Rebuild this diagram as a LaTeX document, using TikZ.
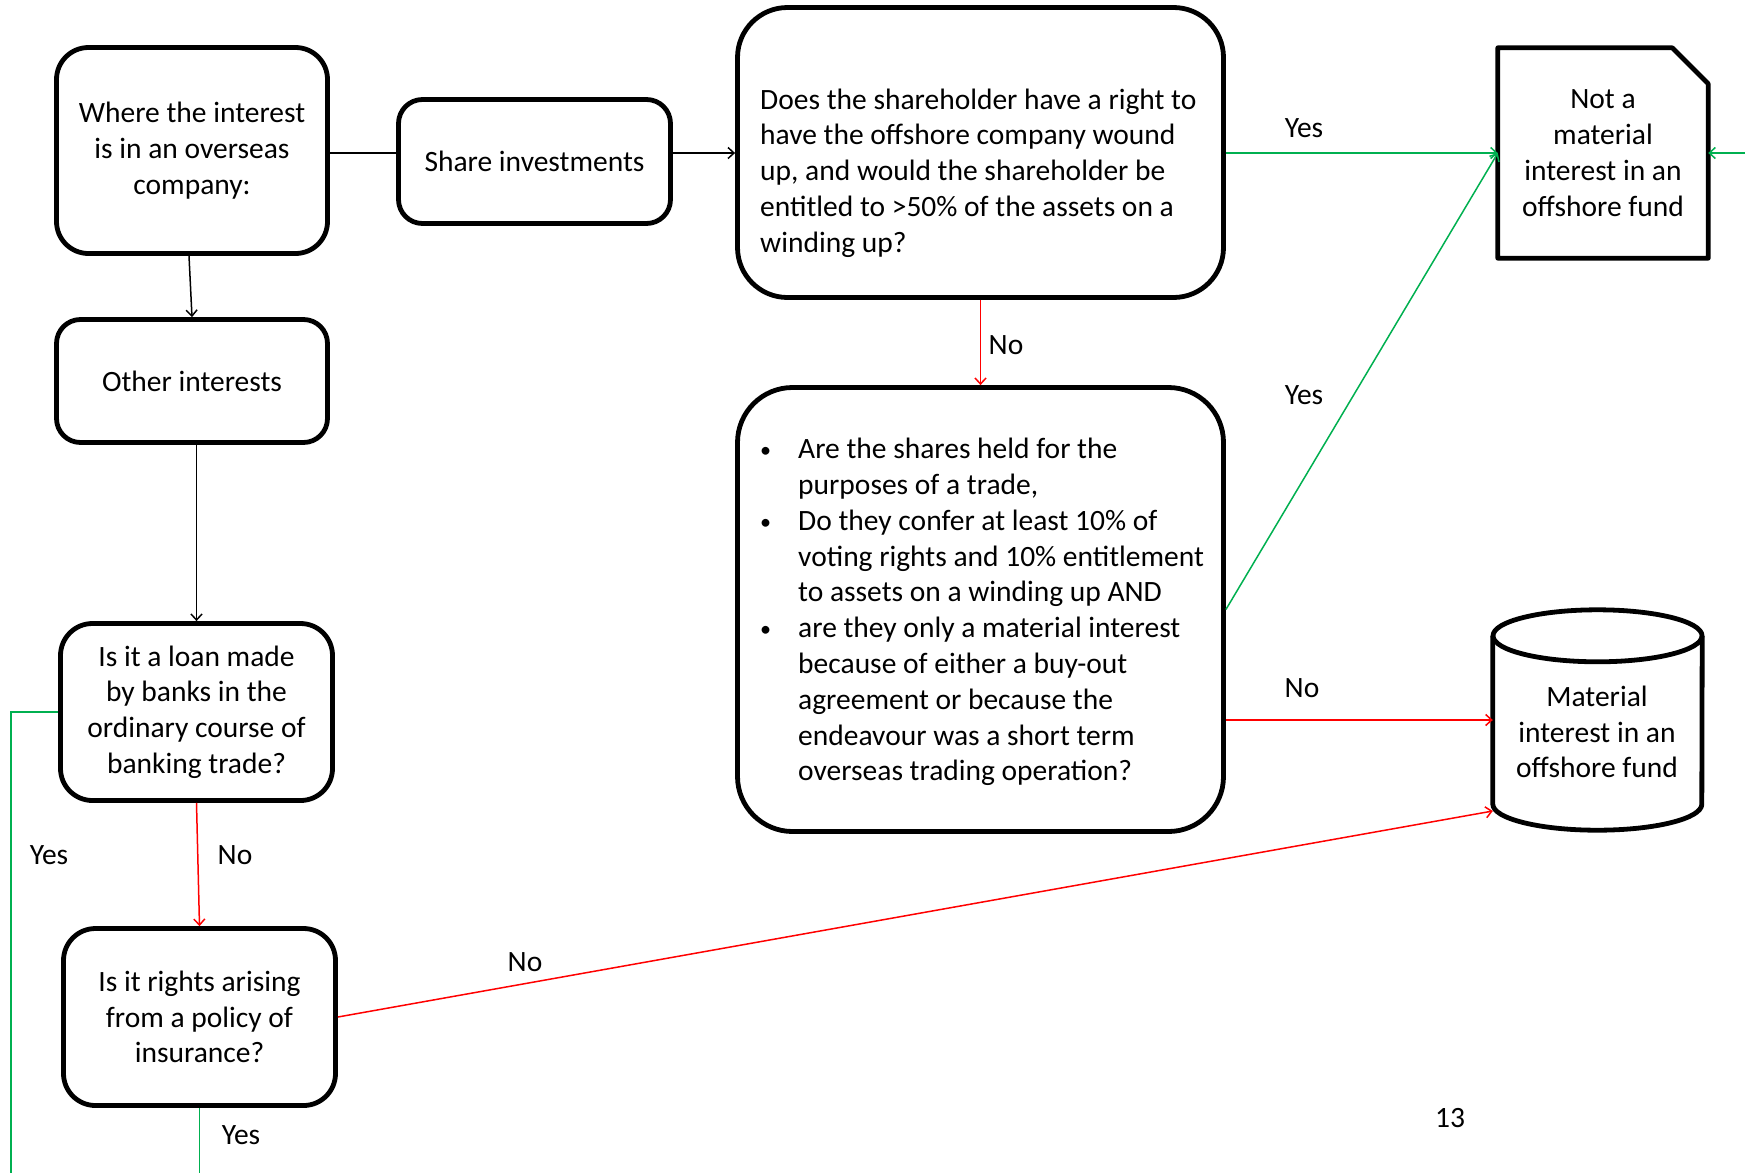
\documentclass[tikz,border=0pt]{standalone}
\usepackage{fontspec}
\setmainfont{Carlito}
\usetikzlibrary{arrows.meta,calc}
\definecolor{yesgreen}{RGB}{0,176,80}
\definecolor{nored}{RGB}{255,0,0}
\newcommand{\bul}{\makebox[40pt][l]{\hspace*{2pt}\raisebox{1pt}{\scalebox{0.75}{\textbullet}}}}
\newcommand{\hang}{\hspace*{40pt}}
\begin{document}
\begin{tikzpicture}[x=1pt,y=-1pt,
  every node/.style={font=\fontsize{29.5pt}{35.8pt}\selectfont, inner sep=0pt},
  box/.style={draw, line width=4.8pt, rounded corners=#1, align=center},
  box/.default=32pt,
  flow/.style={line width=1.5pt, -{Straight Barb[length=6pt,width=11pt]}},
  plain/.style={line width=1.5pt},
  yes/.style={draw=yesgreen},
  no/.style={draw=nored},
  shapeline/.style={line width=4.8pt, line join=round}
]
\useasboundingbox (0,0) rectangle (1745,1173);
\fill[white] (0,0) rectangle (1745,1173);

% left column
\node[box, minimum width=271pt, minimum height=206pt] (a) at (192,150.5)
  {Where the interest\\is in an overseas\\company:};
\node[box=24pt, minimum width=272pt, minimum height=124pt] (sh) at (534.5,161.5)
  {Share investments};
\node[box=24pt, minimum width=271pt, minimum height=123pt] (oi) at (192,381)
  {Other interests};
\node[box, minimum width=272pt, minimum height=177pt] (loan) at (196.5,712)
  {Is it a loan made\\by banks in the\\ordinary course of\\banking trade?};
\node[box, minimum width=272pt, minimum height=177pt] (ins) at (199.5,1017)
  {Is it rights arising\\from a policy of\\insurance?};

% middle column
\node[box=50pt, minimum width=486pt, minimum height=290pt] (q1) at (980.5,152.5) {};
\node[anchor=west, align=left] (q1t) at (760,173)
  {Does the shareholder have a right to\\have the offshore company wound\\up, and would the shareholder be\\entitled to >50\% of the assets on a\\winding up?};
\node[box=55pt, minimum width=486pt, minimum height=444pt] (q2) at (980.5,609.5) {};
\node[anchor=west, align=left] (q2t) at (758,612)
  {\bul Are the shares held for the\\\hang purposes of a trade,\\\bul Do they confer at least 10\% of\\\hang voting rights and 10\% entitlement\\\hang to assets on a winding up AND\\\bul are they only a material interest\\\hang because of either a buy-out\\\hang agreement or because the\\\hang endeavour was a short term\\\hang overseas trading operation?};

% outcomes
\node[minimum width=210pt, minimum height=210pt, align=center] (nm) at (1603,153)
  {Not a\\material\\interest in an\\offshore fund};
\draw[shapeline] (nm.south west) -- (nm.north west) -- ([xshift=-36pt]nm.north east)
  -- ([yshift=-36pt]nm.north east) -- (nm.south east) -- cycle;

\node[minimum width=209pt, minimum height=220pt] (mf) at (1597.5,720) {};
\draw[shapeline] ($(mf.north)+(0,26)$) ellipse [x radius=104.5pt, y radius=26pt];
\draw[shapeline] ($(mf.north west)+(0,26)$) -- ($(mf.south west)+(0,-26)$)
  arc[start angle=180, end angle=360, x radius=104.5pt, y radius=26pt]
  -- ($(mf.north east)+(0,26)$);
\node[align=center] (mft) at (1597,732) {Material\\interest in an\\offshore fund};

% free ends at the page border
\coordinate (rin) at (1745,153);
\coordinate (lyes) at (11,1173);
\coordinate (iyes) at (199.5,1173);
\coordinate (row) at (0,153);

% black connectors
\draw[plain] (a.east |- row) -- (sh.west |- row);
\draw[flow] (sh.east |- row) -- (q1.west |- row);
\draw[flow] ([xshift=-3pt]a.south) -- (oi.north);
\draw[flow] (oi.south -| loan.north) -- (loan.north);

% green connectors
\draw[flow, yes] (q1.east |- row) -- (nm.west);
\draw[flow, yes] (rin) -- (nm.east);
\draw[flow, yes] (q2.east) -- (nm.west);
\draw[plain, yes] (loan.west) -| (lyes);
\draw[plain, yes] (ins.south) -- (iyes);

% red connectors
\draw[flow, no] (q1.south) -- (q2.north);
\draw[flow, no] (q2.east |- mf.west) -- (mf.west);
\draw[flow, no] (loan.south) -- (ins.north);
\draw[flow, no] (ins.east) -- ([yshift=-91pt]mf.west);

% connector labels
\node (l1) at (1304,128) {Yes};
\node (l2) at (1006,345) {No};
\node (l3) at (1304,395) {Yes};
\node (l4) at (1302,688) {No};
\node (l5) at (49,855) {Yes};
\node (l6) at (235,855) {No};
\node (l7) at (525,962) {No};
\node (l8) at (241,1135) {Yes};

% page number
\node (pg) at (1450,1118) {13};
\end{tikzpicture}
\end{document}
